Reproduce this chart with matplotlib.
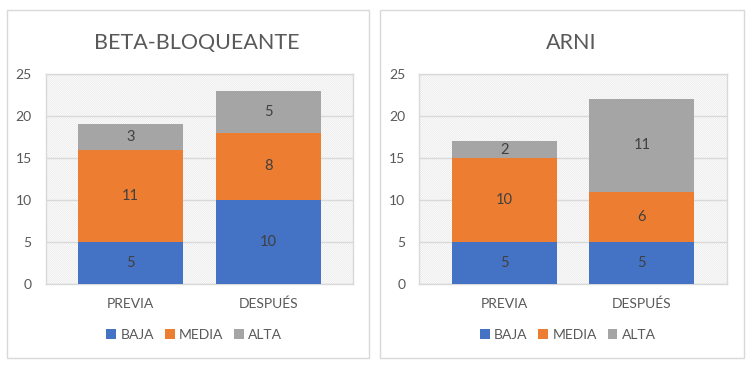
import matplotlib
matplotlib.use("Agg")
import matplotlib.pyplot as plt
from matplotlib.patches import Rectangle, Patch

categories = ["PREVIA", "DESPUÉS"]
series = ["BAJA", "MEDIA", "ALTA"]
titles = ["BETA-BLOQUEANTE", "ARNI"]
beta_baja = [5, 10]
beta_media = [11, 8]
beta_alta = [3, 5]
arni_baja = [5, 5]
arni_media = [10, 6]
arni_alta = [2, 11]
yticks = [0, 5, 10, 15, 20, 25]

colors = ["#4472C4", "#ED7D31", "#A5A5A5"]
text_gray = "#595959"
line_gray = "#D9D9D9"

plt.rcParams["font.family"] = ["Lato", "DejaVu Sans"]
plt.rcParams["hatch.linewidth"] = 0.4
plt.rcParams["hatch.color"] = "#E2E2E2"

W, H = 750, 369
fig = plt.figure(figsize=(7.5, 3.69), dpi=100)

# panel frames (px: left, right)
frames = [(7, 369), (380, 744)]
axes_px = [(45.7, 353.3), (419.3, 726.7)]
data = [(beta_baja, beta_media, beta_alta), (arni_baja, arni_media, arni_alta)]

for (fl, fr), (al, ar), title, vals in zip(frames, axes_px, titles, data):
    fig.patches.append(Rectangle((fl / W, 1 - 358 / H), (fr - fl) / W, 348 / H,
                                 transform=fig.transFigure, fill=False,
                                 edgecolor=line_gray, linewidth=1.0))
    ax = fig.add_axes([al / W, 85 / H, (ar - al) / W, 210 / H])
    ax.set_facecolor("white")
    ax.add_patch(Rectangle((0, 0), 1, 1, transform=ax.transAxes, facecolor="white",
                           hatch="\\" * 16, edgecolor="#E2E2E2", linewidth=0,
                           zorder=0))
    x = range(len(categories))
    bottom = [0, 0]
    for vs, c in zip(vals, colors):
        ax.bar(x, vs, width=0.761, bottom=bottom, color=c, zorder=3)
        for xi, v, b in zip(x, vs, bottom):
            ax.text(xi, b + v / 2, str(v), ha="center", va="center",
                    fontsize=10.5, color="#404040", zorder=4)
        bottom = [b + v for b, v in zip(bottom, vs)]
    ax.set_xlim(-0.617, 1.617)
    ax.set_ylim(0, 25)
    ax.set_yticks(yticks)
    ax.set_xticks(list(x))
    ax.set_xticklabels(categories)
    ax.yaxis.grid(True, color=line_gray, linewidth=1.0, zorder=1)
    ax.set_axisbelow(True)
    for s in ax.spines.values():
        s.set_color(line_gray)
        s.set_linewidth(1.0)
    ax.tick_params(axis="both", length=0, labelsize=10, labelcolor=text_gray)
    ax.tick_params(axis="y", pad=10)
    ax.tick_params(axis="x", pad=10)

    cx = (al + ar) / 2 / W
    fig.text(cx - 0.003, 1 - 43 / H, title, ha="center", va="center",
             fontsize=15.5, color=text_gray)
    handles = [Patch(facecolor=c, label=s) for c, s in zip(colors, series)]
    fig.legend(handles=handles, loc="center", bbox_to_anchor=(cx - 0.007, 34 / H),
               ncol=3, frameon=False, fontsize=10, labelcolor=text_gray,
               handlelength=0.7, handleheight=0.7, handletextpad=0.3,
               columnspacing=0.8)

fig.savefig("out.png", dpi=100)
